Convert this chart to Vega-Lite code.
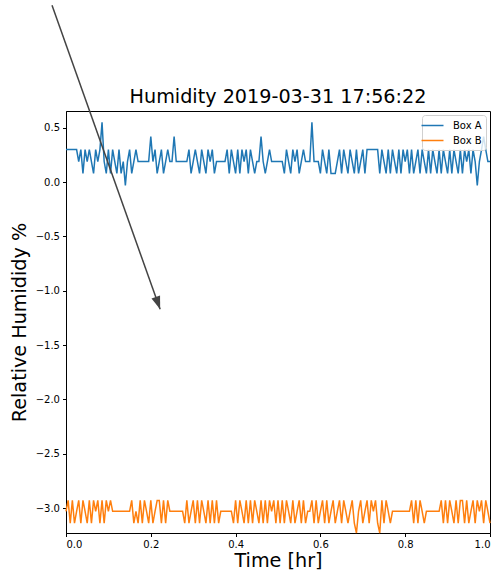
{
"$schema": "https://vega.github.io/schema/vega-lite/v6.json",
"autosize": {"type": "none"},
"width": 424,
"height": 422,
"padding": {"left": 66, "top": 111, "right": 7, "bottom": 39},
"background": "white",
"title": {"text": "Humidity 2019-03-31 17:56:22", "fontSize": 19.2, "font": "DejaVu Sans", "fontWeight": "normal", "color": "#000", "offset": -102.5, "anchor": "middle"},
"config": {
  "view": {"stroke": "#000", "strokeWidth": 1},
  "axis": {"grid": false, "domainColor": "#000", "tickColor": "#000", "labelColor": "#000", "titleColor": "#000", "labelFont": "DejaVu Sans", "titleFont": "DejaVu Sans", "labelFontSize": 10, "titleFontSize": 19.2, "titleFontWeight": "normal", "tickSize": 3.5, "labelPadding": 3}
},
"datasets": {
  "arrow": [{"x0": -0.033, "y0": 1.628, "x1": 0.222, "y1": -1.171}],
  "hum": [
{"t":0,"Box A":0.30,"Box B":-3.03},
{"t":0.005,"Box A":0.30,"Box B":-2.93},
{"t":0.01,"Box A":0.30,"Box B":-3.14},
{"t":0.015,"Box A":0.30,"Box B":-2.93},
{"t":0.02,"Box A":0.30,"Box B":-3.14},
{"t":0.025,"Box A":0.30,"Box B":-3.03},
{"t":0.03,"Box A":0.19,"Box B":-2.93},
{"t":0.035,"Box A":0.30,"Box B":-3.14},
{"t":0.04,"Box A":0.08,"Box B":-2.93},
{"t":0.045,"Box A":0.30,"Box B":-3.03},
{"t":0.05,"Box A":0.19,"Box B":-3.14},
{"t":0.055,"Box A":0.30,"Box B":-2.93},
{"t":0.06,"Box A":0.19,"Box B":-3.14},
{"t":0.065,"Box A":0.08,"Box B":-2.93},
{"t":0.07,"Box A":0.30,"Box B":-3.03},
{"t":0.075,"Box A":0.19,"Box B":-2.93},
{"t":0.08,"Box A":0.30,"Box B":-3.14},
{"t":0.085,"Box A":0.55,"Box B":-2.93},
{"t":0.09,"Box A":0.19,"Box B":-3.14},
{"t":0.095,"Box A":0.08,"Box B":-2.93},
{"t":0.1,"Box A":0.30,"Box B":-3.03},
{"t":0.105,"Box A":0.08,"Box B":-2.93},
{"t":0.11,"Box A":0.30,"Box B":-3.03},
{"t":0.115,"Box A":0.19,"Box B":-3.03},
{"t":0.12,"Box A":0.08,"Box B":-3.03},
{"t":0.125,"Box A":0.30,"Box B":-3.03},
{"t":0.13,"Box A":0.08,"Box B":-3.03},
{"t":0.135,"Box A":0.19,"Box B":-3.03},
{"t":0.14,"Box A":-0.03,"Box B":-3.03},
{"t":0.145,"Box A":0.19,"Box B":-3.03},
{"t":0.15,"Box A":0.30,"Box B":-3.03},
{"t":0.155,"Box A":0.08,"Box B":-2.93},
{"t":0.16,"Box A":0.19,"Box B":-3.14},
{"t":0.165,"Box A":0.30,"Box B":-3.03},
{"t":0.17,"Box A":0.19,"Box B":-3.14},
{"t":0.175,"Box A":0.19,"Box B":-2.93},
{"t":0.18,"Box A":0.19,"Box B":-3.14},
{"t":0.185,"Box A":0.19,"Box B":-2.93},
{"t":0.19,"Box A":0.19,"Box B":-3.03},
{"t":0.195,"Box A":0.19,"Box B":-3.14},
{"t":0.2,"Box A":0.42,"Box B":-2.93},
{"t":0.205,"Box A":0.19,"Box B":-3.14},
{"t":0.21,"Box A":0.30,"Box B":-3.03},
{"t":0.215,"Box A":0.08,"Box B":-2.93},
{"t":0.22,"Box A":0.19,"Box B":-2.93},
{"t":0.225,"Box A":0.30,"Box B":-3.14},
{"t":0.23,"Box A":0.08,"Box B":-2.93},
{"t":0.235,"Box A":0.19,"Box B":-3.14},
{"t":0.24,"Box A":0.30,"Box B":-2.93},
{"t":0.245,"Box A":0.19,"Box B":-3.03},
{"t":0.25,"Box A":0.19,"Box B":-3.03},
{"t":0.255,"Box A":0.42,"Box B":-3.03},
{"t":0.26,"Box A":0.19,"Box B":-3.03},
{"t":0.265,"Box A":0.19,"Box B":-3.03},
{"t":0.27,"Box A":0.19,"Box B":-3.03},
{"t":0.275,"Box A":0.19,"Box B":-3.03},
{"t":0.28,"Box A":0.19,"Box B":-3.14},
{"t":0.285,"Box A":0.19,"Box B":-2.93},
{"t":0.29,"Box A":0.30,"Box B":-3.14},
{"t":0.295,"Box A":0.08,"Box B":-3.03},
{"t":0.3,"Box A":0.19,"Box B":-2.93},
{"t":0.305,"Box A":0.30,"Box B":-3.14},
{"t":0.31,"Box A":0.19,"Box B":-2.93},
{"t":0.315,"Box A":0.08,"Box B":-3.14},
{"t":0.32,"Box A":0.30,"Box B":-2.93},
{"t":0.325,"Box A":0.19,"Box B":-3.03},
{"t":0.33,"Box A":0.08,"Box B":-3.14},
{"t":0.335,"Box A":0.30,"Box B":-2.93},
{"t":0.34,"Box A":0.19,"Box B":-3.14},
{"t":0.345,"Box A":0.30,"Box B":-2.93},
{"t":0.35,"Box A":0.08,"Box B":-3.14},
{"t":0.355,"Box A":0.19,"Box B":-2.93},
{"t":0.36,"Box A":0.19,"Box B":-3.14},
{"t":0.365,"Box A":0.19,"Box B":-3.03},
{"t":0.37,"Box A":0.19,"Box B":-3.03},
{"t":0.375,"Box A":0.19,"Box B":-3.03},
{"t":0.38,"Box A":0.30,"Box B":-3.03},
{"t":0.385,"Box A":0.08,"Box B":-3.03},
{"t":0.39,"Box A":0.30,"Box B":-3.03},
{"t":0.395,"Box A":0.19,"Box B":-3.14},
{"t":0.4,"Box A":0.08,"Box B":-2.93},
{"t":0.405,"Box A":0.30,"Box B":-3.14},
{"t":0.41,"Box A":0.08,"Box B":-2.93},
{"t":0.415,"Box A":0.30,"Box B":-3.03},
{"t":0.42,"Box A":0.19,"Box B":-3.14},
{"t":0.425,"Box A":0.30,"Box B":-2.93},
{"t":0.43,"Box A":0.08,"Box B":-3.14},
{"t":0.435,"Box A":0.30,"Box B":-2.93},
{"t":0.44,"Box A":0.19,"Box B":-3.14},
{"t":0.445,"Box A":0.08,"Box B":-2.93},
{"t":0.45,"Box A":0.19,"Box B":-3.03},
{"t":0.455,"Box A":0.19,"Box B":-3.14},
{"t":0.46,"Box A":0.42,"Box B":-2.93},
{"t":0.465,"Box A":0.19,"Box B":-3.14},
{"t":0.47,"Box A":0.08,"Box B":-2.93},
{"t":0.475,"Box A":0.19,"Box B":-3.14},
{"t":0.48,"Box A":0.30,"Box B":-2.93},
{"t":0.485,"Box A":0.19,"Box B":-3.03},
{"t":0.49,"Box A":0.19,"Box B":-2.93},
{"t":0.495,"Box A":0.19,"Box B":-3.14},
{"t":0.5,"Box A":0.19,"Box B":-2.93},
{"t":0.505,"Box A":0.19,"Box B":-3.14},
{"t":0.51,"Box A":0.19,"Box B":-2.93},
{"t":0.515,"Box A":0.08,"Box B":-3.14},
{"t":0.52,"Box A":0.30,"Box B":-2.93},
{"t":0.525,"Box A":0.19,"Box B":-3.03},
{"t":0.53,"Box A":0.08,"Box B":-3.14},
{"t":0.535,"Box A":0.30,"Box B":-2.93},
{"t":0.54,"Box A":0.19,"Box B":-3.14},
{"t":0.545,"Box A":0.30,"Box B":-3.03},
{"t":0.55,"Box A":0.08,"Box B":-2.93},
{"t":0.555,"Box A":0.19,"Box B":-3.14},
{"t":0.56,"Box A":0.30,"Box B":-2.93},
{"t":0.565,"Box A":0.19,"Box B":-3.14},
{"t":0.57,"Box A":0.19,"Box B":-3.03},
{"t":0.575,"Box A":0.19,"Box B":-3.03},
{"t":0.58,"Box A":0.55,"Box B":-2.93},
{"t":0.585,"Box A":0.19,"Box B":-3.14},
{"t":0.59,"Box A":0.19,"Box B":-2.93},
{"t":0.595,"Box A":0.19,"Box B":-3.14},
{"t":0.6,"Box A":0.08,"Box B":-3.03},
{"t":0.605,"Box A":0.30,"Box B":-2.93},
{"t":0.61,"Box A":0.19,"Box B":-3.14},
{"t":0.615,"Box A":0.08,"Box B":-2.93},
{"t":0.62,"Box A":0.30,"Box B":-3.14},
{"t":0.625,"Box A":0.08,"Box B":-3.03},
{"t":0.63,"Box A":0.08,"Box B":-2.93},
{"t":0.635,"Box A":0.08,"Box B":-3.14},
{"t":0.64,"Box A":0.19,"Box B":-3.03},
{"t":0.645,"Box A":0.30,"Box B":-2.93},
{"t":0.65,"Box A":0.08,"Box B":-3.14},
{"t":0.655,"Box A":0.30,"Box B":-2.93},
{"t":0.66,"Box A":0.19,"Box B":-3.03},
{"t":0.665,"Box A":0.08,"Box B":-3.14},
{"t":0.67,"Box A":0.30,"Box B":-3.03},
{"t":0.675,"Box A":0.19,"Box B":-2.93},
{"t":0.68,"Box A":0.08,"Box B":-3.14},
{"t":0.685,"Box A":0.30,"Box B":-3.23},
{"t":0.69,"Box A":0.08,"Box B":-3.03},
{"t":0.695,"Box A":0.19,"Box B":-2.93},
{"t":0.7,"Box A":0.30,"Box B":-3.14},
{"t":0.705,"Box A":0.08,"Box B":-3.03},
{"t":0.71,"Box A":0.30,"Box B":-2.93},
{"t":0.715,"Box A":0.30,"Box B":-3.14},
{"t":0.72,"Box A":0.30,"Box B":-2.93},
{"t":0.725,"Box A":0.30,"Box B":-3.03},
{"t":0.73,"Box A":0.30,"Box B":-2.93},
{"t":0.735,"Box A":0.30,"Box B":-3.14},
{"t":0.74,"Box A":0.08,"Box B":-3.23},
{"t":0.745,"Box A":0.30,"Box B":-2.93},
{"t":0.75,"Box A":0.19,"Box B":-3.14},
{"t":0.755,"Box A":0.08,"Box B":-2.93},
{"t":0.76,"Box A":0.30,"Box B":-3.03},
{"t":0.765,"Box A":0.08,"Box B":-3.14},
{"t":0.77,"Box A":0.30,"Box B":-3.03},
{"t":0.775,"Box A":0.19,"Box B":-3.03},
{"t":0.78,"Box A":0.08,"Box B":-3.03},
{"t":0.785,"Box A":0.30,"Box B":-3.03},
{"t":0.79,"Box A":0.08,"Box B":-3.03},
{"t":0.795,"Box A":0.30,"Box B":-3.03},
{"t":0.8,"Box A":0.19,"Box B":-3.03},
{"t":0.805,"Box A":0.30,"Box B":-3.03},
{"t":0.81,"Box A":0.08,"Box B":-3.03},
{"t":0.815,"Box A":0.30,"Box B":-2.93},
{"t":0.82,"Box A":0.08,"Box B":-3.14},
{"t":0.825,"Box A":0.19,"Box B":-2.93},
{"t":0.83,"Box A":0.30,"Box B":-3.14},
{"t":0.835,"Box A":0.08,"Box B":-2.93},
{"t":0.84,"Box A":0.30,"Box B":-3.03},
{"t":0.845,"Box A":0.19,"Box B":-3.14},
{"t":0.85,"Box A":0.08,"Box B":-3.03},
{"t":0.855,"Box A":0.30,"Box B":-3.03},
{"t":0.86,"Box A":0.08,"Box B":-3.03},
{"t":0.865,"Box A":0.30,"Box B":-3.03},
{"t":0.87,"Box A":0.19,"Box B":-3.03},
{"t":0.875,"Box A":0.08,"Box B":-3.03},
{"t":0.88,"Box A":0.30,"Box B":-3.03},
{"t":0.885,"Box A":0.08,"Box B":-2.93},
{"t":0.89,"Box A":0.30,"Box B":-3.14},
{"t":0.895,"Box A":0.19,"Box B":-2.93},
{"t":0.9,"Box A":0.08,"Box B":-3.14},
{"t":0.905,"Box A":0.30,"Box B":-2.93},
{"t":0.91,"Box A":0.08,"Box B":-3.03},
{"t":0.915,"Box A":0.30,"Box B":-3.14},
{"t":0.92,"Box A":0.19,"Box B":-2.93},
{"t":0.925,"Box A":0.08,"Box B":-3.14},
{"t":0.93,"Box A":0.30,"Box B":-2.93},
{"t":0.935,"Box A":0.08,"Box B":-2.93},
{"t":0.94,"Box A":0.30,"Box B":-3.14},
{"t":0.945,"Box A":0.19,"Box B":-2.93},
{"t":0.95,"Box A":0.30,"Box B":-3.14},
{"t":0.955,"Box A":0.08,"Box B":-3.03},
{"t":0.96,"Box A":0.30,"Box B":-2.93},
{"t":0.965,"Box A":0.19,"Box B":-3.14},
{"t":0.97,"Box A":-0.03,"Box B":-2.93},
{"t":0.975,"Box A":0.19,"Box B":-3.03},
{"t":0.98,"Box A":0.30,"Box B":-2.93},
{"t":0.985,"Box A":0.42,"Box B":-3.14},
{"t":0.99,"Box A":0.30,"Box B":-2.93},
{"t":0.995,"Box A":0.19,"Box B":-3.03},
{"t":1,"Box A":0.19,"Box B":-3.14}
  ]
},
"layer": [
  {
    "data": {"name": "hum"},
    "transform": [{"fold": ["Box A", "Box B"], "as": ["series", "value"]}],
    "mark": {"type": "line", "strokeWidth": 1.5},
    "encoding": {
      "x": {"field": "t", "type": "quantitative", "scale": {"domain": [0, 1], "nice": false, "zero": false},
            "axis": {"values": [0, 0.2, 0.4, 0.6, 0.8, 1.0], "format": ".1f", "title": "Time [hr]", "titlePadding": 2}},
      "y": {"field": "value", "type": "quantitative", "scale": {"domain": [-3.23, 0.655], "nice": false, "zero": false},
            "axis": {"values": [-3, -2.5, -2, -1.5, -1, -0.5, 0, 0.5], "format": ".1f", "labelExpr": "replace(datum.label, '-', '−')", "title": "Relative Humididy %", "titlePadding": 6}},
      "color": {"field": "series", "type": "nominal", "scale": {"domain": ["Box A", "Box B"], "range": ["#1f77b4", "#ff7f0e"]},
                "legend": {"title": null, "orient": "top-right", "offset": 4, "symbolType": "M-2,0L2,0", "symbolStrokeWidth": 1.5, "symbolSize": 121, "symbolFillColor": "transparent", "labelFontSize": 10, "labelFont": "DejaVu Sans", "labelColor": "#000", "fillColor": "rgba(255,255,255,0.8)", "strokeColor": "#d0d0d0", "cornerRadius": 3, "padding": 4, "rowPadding": 3, "labelOffset": 14}}
    }
  },
  {
    "data": {"name": "arrow"},
    "mark": {"type": "rule", "color": "#444444", "strokeWidth": 1.5},
    "encoding": {
      "x": {"field": "x0", "type": "quantitative", "title": "Time [hr]"},
      "y": {"field": "y0", "type": "quantitative", "title": "Relative Humididy %"},
      "x2": {"field": "x1"},
      "y2": {"field": "y1"}
    }
  },
  {
    "data": {"name": "arrow"},
    "mark": {"type": "point", "shape": "M0,0 L-0.35,-1 L0.35,-1 Z", "filled": true, "color": "#444444", "opacity": 1, "size": 676, "angle": 340.5},
    "encoding": {
      "x": {"field": "x1", "type": "quantitative", "title": "Time [hr]"},
      "y": {"field": "y1", "type": "quantitative", "title": "Relative Humididy %"}
    }
  }
]
}
